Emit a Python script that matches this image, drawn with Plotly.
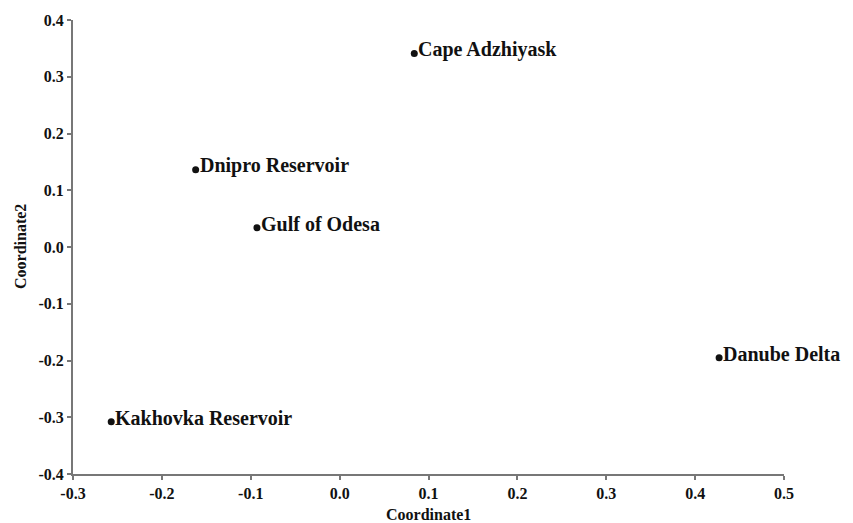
import plotly.graph_objects as go

# Sampling sites and their PCoA coordinates
sites = ["Cape Adzhiyask", "Dnipro Reservoir", "Gulf of Odesa", "Danube Delta", "Kakhovka Reservoir"]
coord1 = [0.084, -0.162, -0.093, 0.427, -0.257]
coord2 = [0.341, 0.136, 0.034, -0.195, -0.308]

x_ticks = [-0.3, -0.2, -0.1, 0.0, 0.1, 0.2, 0.3, 0.4, 0.5]
y_ticks = [-0.4, -0.3, -0.2, -0.1, 0.0, 0.1, 0.2, 0.3, 0.4]

font_family = "Liberation Serif"

fig = go.Figure(
    go.Scatter(
        x=coord1,
        y=coord2,
        mode="markers",
        marker=dict(size=7, color="#111"),
        cliponaxis=False,
        showlegend=False,
    )
)

# Site names sit just right of each point, baseline near the dot
for name, cx, cy in zip(sites, coord1, coord2):
    fig.add_annotation(
        x=cx,
        y=cy,
        text=f"<b>{name}</b>",
        showarrow=False,
        xanchor="left",
        yanchor="middle",
        xshift=2,
        yshift=4,
        font=dict(family=font_family, size=20, color="#111"),
    )

# Axis titles placed in paper coordinates
title_font = dict(family=font_family, size=16, color="#111")
fig.add_annotation(
    x=0.5, y=0, xref="paper", yref="paper",
    text="<b>Coordinate1</b>", showarrow=False,
    xanchor="center", yanchor="middle", yshift=-40,
    font=title_font,
)
fig.add_annotation(
    x=0, y=0.5, xref="paper", yref="paper",
    text="<b>Coordinate2</b>", showarrow=False, textangle=-90,
    xanchor="center", yanchor="middle", xshift=-53,
    font=title_font,
)

axis_common = dict(
    showgrid=False,
    zeroline=False,
    showline=True,
    linecolor="#777",
    linewidth=2,
    ticks="outside",
    ticklen=4,
    tickwidth=1.5,
    tickcolor="#777",
    tickfont=dict(family=font_family, size=16, color="#111"),
    automargin=False,
)

fig.update_xaxes(
    range=[-0.3, 0.5],
    tickvals=x_ticks,
    ticktext=[f"<b>{v:.1f}</b>" for v in x_ticks],
    **axis_common,
)
fig.update_yaxes(
    range=[-0.4, 0.4],
    tickvals=y_ticks,
    ticktext=[f"<b>{v:.1f}</b>" for v in y_ticks],
    **axis_common,
)

fig.update_layout(
    width=853,
    height=523,
    margin=dict(l=73, r=69, t=20, b=49),
    plot_bgcolor="white",
    paper_bgcolor="white",
)

fig.write_html("out.html")
